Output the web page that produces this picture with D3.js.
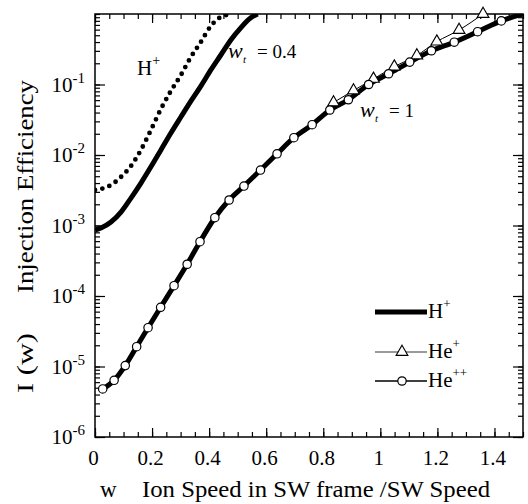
<!DOCTYPE html>
<html><head><meta charset="utf-8">
<script src="https://cdn.jsdelivr.net/npm/d3@7"></script>
<style>
body{margin:0;background:#fff;}
svg text{font-family:"Liberation Serif","Times New Roman",serif;fill:#000;}
</style></head>
<body><svg id="c" width="528" height="504"></svg>
<script>
// ---- data (w, I(w)) ----
const hpDotted = [[0,3.19e-3],[0.021,3.30e-3],[0.056,3.75e-3],[0.091,4.88e-3],[0.126,6.98e-3],[0.161,1.18e-2],[0.196,2.26e-2],[0.231,4.49e-2],[0.266,8.09e-2],[0.301,0.136],[0.336,0.245],[0.371,0.401],[0.406,0.676],[0.441,0.906],[0.483,1.0]];
const hpWt04 = [[0,8.6e-4],[0.021,9.2e-4],[0.056,1.12e-3],[0.091,1.55e-3],[0.126,2.45e-3],[0.161,4.0e-3],[0.196,6.8e-3],[0.231,1.18e-2],[0.266,2.05e-2],[0.301,3.46e-2],[0.336,5.8e-2],[0.371,9.5e-2],[0.406,0.161],[0.441,0.262],[0.476,0.428],[0.510,0.632],[0.545,0.877],[0.570,1.0]];
const hpWt1 = [[0.020,4.6e-6],[0.067,6.37e-6],[0.106,1.03e-5],[0.146,1.91e-5],[0.186,3.55e-5],[0.230,6.92e-5],[0.277,1.40e-4],[0.323,2.82e-4],[0.368,5.89e-4],[0.420,1.29e-3],[0.470,2.30e-3],[0.522,3.63e-3],[0.580,6.12e-3],[0.638,1.04e-2],[0.697,1.76e-2],[0.761,2.69e-2],[0.823,4.35e-2],[0.888,6.08e-2],[0.959,0.100],[1.029,0.142],[1.103,0.208],[1.179,0.301],[1.259,0.398],[1.341,0.561],[1.424,0.798],[1.5,1.0]];
const hePlus = [[0.836,5.56e-2],[0.906,8.22e-2],[0.976,0.120],[1.049,0.179],[1.128,0.258],[1.198,0.405],[1.276,0.593],[1.360,1.0]];
const hePlusPlus = [[0.027,4.80e-6],[0.067,6.37e-6],[0.106,1.03e-5],[0.146,1.91e-5],[0.186,3.55e-5],[0.230,6.92e-5],[0.277,1.40e-4],[0.323,2.82e-4],[0.368,5.89e-4],[0.420,1.29e-3],[0.470,2.30e-3],[0.522,3.63e-3],[0.580,6.12e-3],[0.638,1.04e-2],[0.697,1.76e-2],[0.761,2.69e-2],[0.823,4.35e-2],[0.888,6.08e-2],[0.959,0.100],[1.029,0.142],[1.103,0.208],[1.179,0.301],[1.259,0.398],[1.341,0.561],[1.424,0.798]];
const hePlusPlusEnd = [1.5,1.0];
const xTickValues = [0,0.2,0.4,0.6,0.8,1,1.2,1.4];
const xTickLabels = ["0","0.2","0.4","0.6","0.8","1","1.2","1.4"];
const yTickValues = [1e-6,1e-5,1e-4,1e-3,1e-2,1e-1];
const yTickExps = ["-6","-5","-4","-3","-2","-1"];
const legendNames = [["H","+"],["He","+"],["He","++"]];

// ---- layout ----
const L=95,R=523,T=14,B=437;
const svg=d3.select("#c");
const x=d3.scaleLinear([0,1.5],[L,R]);
const y=d3.scaleLog([1e-6,1],[B,T]);

svg.append("clipPath").attr("id","clip").append("rect")
  .attr("x",L).attr("y",T).attr("width",R-L).attr("height",B-T);

function styleAxis(g){g.select(".domain").remove();g.selectAll("line").attr("stroke","#000").attr("stroke-width",1.2);}
const minorX=x.ticks(30);
const minorY=y.ticks();
// bottom
svg.append("g").attr("transform",`translate(0,${B})`).call(d3.axisBottom(x).tickValues(minorX).tickSize(-5).tickFormat("")).call(styleAxis);
svg.append("g").attr("transform",`translate(0,${B})`).call(d3.axisBottom(x).tickValues(xTickValues).tickSize(-9).tickPadding(13).tickFormat((d,i)=>xTickLabels[i])).call(styleAxis)
  .selectAll("text").attr("font-size",21).attr("dx",-2);
// top
svg.append("g").attr("transform",`translate(0,${T})`).call(d3.axisTop(x).tickValues(minorX).tickSize(-5).tickFormat("")).call(styleAxis);
svg.append("g").attr("transform",`translate(0,${T})`).call(d3.axisTop(x).tickValues(xTickValues).tickSize(-9).tickFormat("")).call(styleAxis);
// left
svg.append("g").attr("transform",`translate(${L},0)`).call(d3.axisLeft(y).tickValues(minorY).tickSize(-5).tickFormat("")).call(styleAxis);
svg.append("g").attr("transform",`translate(${L},0)`).call(d3.axisLeft(y).tickValues(yTickValues).tickSize(-10).tickFormat("")).call(styleAxis);
// right
svg.append("g").attr("transform",`translate(${R},0)`).call(d3.axisRight(y).tickValues(minorY).tickSize(-5).tickFormat("")).call(styleAxis);
svg.append("g").attr("transform",`translate(${R},0)`).call(d3.axisRight(y).tickValues(yTickValues).tickSize(-10).tickFormat("")).call(styleAxis);

// y tick labels with superscripts
yTickValues.forEach((v,i)=>{
  const t=svg.append("text").attr("x",85).attr("y",y(v)+7).attr("text-anchor","end").attr("font-size",21);
  t.append("tspan").text("10");
  t.append("tspan").attr("dy",-9).attr("font-size",15).text(yTickExps[i]);
});

// frame
svg.append("rect").attr("x",L).attr("y",T).attr("width",R-L).attr("height",B-T)
  .attr("fill","none").attr("stroke","#000").attr("stroke-width",1.5);

// ---- curves ----
const line=d3.line().x(d=>x(d[0])).y(d=>y(d[1])).curve(d3.curveMonotoneX);
const plot=svg.append("g").attr("clip-path","url(#clip)");
plot.append("path").datum(hpDotted).attr("d",line).attr("fill","none").attr("stroke","#000")
  .attr("stroke-width",4.8).attr("stroke-linecap","round").attr("stroke-dasharray","0,7.5");
plot.append("path").datum(hpWt04).attr("d",line).attr("fill","none").attr("stroke","#000").attr("stroke-width",5);
plot.append("path").datum(hePlusPlus.concat([hePlusPlusEnd])).attr("d",line).attr("fill","none").attr("stroke","#000").attr("stroke-width",1.5);
plot.append("path").datum(hpWt1).attr("d",line).attr("fill","none").attr("stroke","#000").attr("stroke-width",5);
plot.append("path").datum(hePlus).attr("d",line).attr("fill","none").attr("stroke","#000").attr("stroke-width",1);

const tri=d3.symbol().type(d3.symbolTriangle).size(60);
svg.append("g").selectAll("path").data(hePlus).join("path")
  .attr("transform",d=>`translate(${x(d[0])},${y(d[1])})`).attr("d",tri)
  .attr("fill","#fff").attr("stroke","#000").attr("stroke-width",1.1);
svg.append("g").selectAll("circle").data(hePlusPlus).join("circle")
  .attr("cx",d=>x(d[0])).attr("cy",d=>y(d[1])).attr("r",4.2)
  .attr("fill","#fff").attr("stroke","#000").attr("stroke-width",1.2);

// ---- annotations ----
const a1=svg.append("text").attr("x",137).attr("y",75).attr("font-size",21);
a1.append("tspan").text("H");
a1.append("tspan").attr("dy",-10).attr("font-size",14).text("+");
function wt(xp,yp,val){
  svg.append("text").attr("x",xp).attr("y",yp).attr("font-size",22).attr("font-style","italic").text("w");
  svg.append("text").attr("x",xp+15).attr("y",yp+5).attr("font-size",11).attr("font-style","italic").text("t");
  svg.append("text").attr("x",xp+29).attr("y",yp).attr("font-size",19).text(val);
}
wt(228,58,"= 0.4");
wt(360,117,"= 1");

// ---- legend ----
const legY=[312,352,381];
svg.append("line").attr("x1",375).attr("x2",427).attr("y1",legY[0]).attr("y2",legY[0]).attr("stroke","#000").attr("stroke-width",5);
svg.append("line").attr("x1",375).attr("x2",427).attr("y1",legY[1]).attr("y2",legY[1]).attr("stroke","#000").attr("stroke-width",0.8);
svg.append("path").attr("transform",`translate(402,${legY[1]})`).attr("d",tri).attr("fill","#fff").attr("stroke","#000").attr("stroke-width",1.1);
svg.append("line").attr("x1",375).attr("x2",427).attr("y1",legY[2]).attr("y2",legY[2]).attr("stroke","#000").attr("stroke-width",1.5);
svg.append("circle").attr("cx",402).attr("cy",legY[2]).attr("r",4.2).attr("fill","#fff").attr("stroke","#000").attr("stroke-width",1.2);
legendNames.forEach((n,i)=>{
  const t=svg.append("text").attr("x",428).attr("y",legY[i]+6).attr("font-size",21);
  t.append("tspan").text(n[0]);
  t.append("tspan").attr("dy",-10).attr("font-size",13).text(n[1]);
});

// ---- axis titles ----
svg.append("text").attr("x",100).attr("y",497).attr("font-size",23).text("w");
svg.append("text").attr("x",142).attr("y",497).attr("font-size",23).attr("textLength",348).attr("lengthAdjust","spacingAndGlyphs").text("Ion Speed in SW frame /SW Speed");
const yt=svg.append("g").attr("transform","rotate(-90)");
yt.append("text").attr("x",-393).attr("y",33).attr("font-size",23).attr("textLength",60).attr("lengthAdjust","spacingAndGlyphs").text("I (w)");
yt.append("text").attr("x",-293).attr("y",33).attr("font-size",23).attr("textLength",213).attr("lengthAdjust","spacingAndGlyphs").text("Injection Efficiency");
</script></body></html>
